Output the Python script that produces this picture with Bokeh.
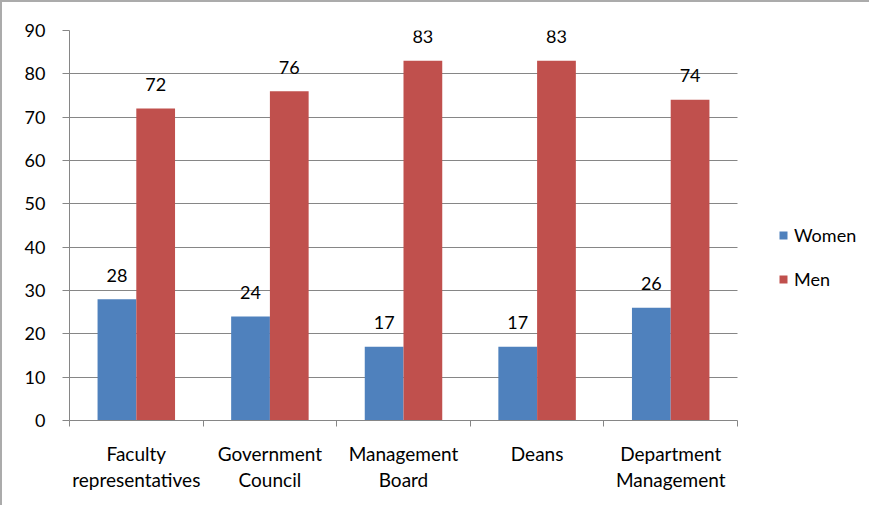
import numpy as np
from bokeh.plotting import figure
from bokeh.models import (ColumnDataSource, Range1d, FixedTicker, Legend, LegendItem)
from bokeh.core.properties import value
from bokeh.embed import file_html
from bokeh.resources import INLINE

categories = ["Faculty\nrepresentatives", "Government\nCouncil", "Management\nBoard", "Deans", "Department\nManagement"]
women = [28, 24, 17, 17, 26]
men = [72, 76, 83, 83, 74]
series_names = ["Women", "Men"]
y_ticks = [0, 10, 20, 30, 40, 50, 60, 70, 80, 90]

FONT = "Lato"
TXT = "#000000"
GRID = "#868686"
C_W = "#4F81BD"
C_M = "#C0504D"

W, H = 869, 505
LEFT, TOP, BOTTOM = 67, 28, 87
CAT_PX = 133.6
n = len(categories)
frame_w = W - LEFT
x_end = frame_w / CAT_PX

idx = np.arange(n)
bw = 0.29
src = ColumnDataSource(dict(
    xw=idx + 0.5 - bw / 2, xm=idx + 0.5 + bw / 2,
    women=women, men=men,
    wl=[str(v) for v in women], ml=[str(v) for v in men],
))

p = figure(width=W, height=H, output_backend="svg", toolbar_location=None,
           x_range=Range1d(0, x_end), y_range=Range1d(0, 90),
           min_border_left=LEFT, min_border_top=TOP, min_border_right=0, min_border_bottom=BOTTOM)
p.styles = {"border-top": "2px solid #ababab", "border-left": "2px solid #ababab"}
p.outline_line_color = None
p.background_fill_color = "white"
p.border_fill_color = "white"

rw = p.vbar(x="xw", top="women", width=bw, bottom=0, source=src, fill_color=C_W, line_color=None)
rm = p.vbar(x="xm", top="men", width=bw, bottom=0, source=src, fill_color=C_M, line_color=None)

for col, lab in (("xw", "wl"), ("xm", "ml")):
    top = "women" if col == "xw" else "men"
    p.text(x=col, y=top, text=lab, source=src, text_align="center", text_baseline="alphabetic",
           y_offset=-24, text_font=value(FONT), text_font_size="18px", text_color=TXT)

# y axis
p.yaxis.ticker = FixedTicker(ticks=y_ticks)
p.yaxis.axis_line_color = GRID
p.yaxis.major_tick_line_color = GRID
p.yaxis.major_tick_out = 7
p.yaxis.major_tick_in = 0
p.yaxis.minor_tick_line_color = None
p.yaxis.major_label_standoff = 17
p.yaxis.major_label_text_font = FONT
p.yaxis.major_label_text_font_size = "18px"
p.yaxis.major_label_text_color = TXT

# x axis: labels at centers, ticks at boundaries
p.xaxis.ticker = FixedTicker(ticks=list(idx + 0.5), minor_ticks=list(range(n + 1)))
p.xaxis.major_label_overrides = {float(i + 0.5): c for i, c in enumerate(categories)}
p.xaxis.bounds = (0, n)
p.xaxis.axis_line_color = GRID
p.xaxis.major_tick_line_color = None
p.xaxis.minor_tick_line_color = GRID
p.xaxis.minor_tick_out = 6
p.xaxis.minor_tick_in = 0
p.xaxis.major_label_standoff = 15
p.xaxis.major_label_text_font = FONT
p.xaxis.major_label_text_font_size = "19px"
p.xaxis.major_label_text_color = TXT
p.xaxis.major_label_text_line_height = 1.15

p.xgrid.grid_line_color = None
p.ygrid.ticker = FixedTicker(ticks=y_ticks)
p.ygrid.grid_line_color = GRID
p.ygrid.cross_bounds = (0, n)

legend = Legend(items=[LegendItem(label=series_names[0], renderers=[rw]),
                       LegendItem(label=series_names[1], renderers=[rm])],
                location=(709, 130), orientation="vertical",
                padding=0, margin=0, spacing=22, glyph_width=10, glyph_height=10,
                label_height=18, label_standoff=6, border_line_color=None,
                background_fill_alpha=0,
                label_text_font=FONT, label_text_font_size="18px", label_text_color=TXT)
p.add_layout(legend, "center")

open("out.html", "w").write(file_html(p, INLINE))
